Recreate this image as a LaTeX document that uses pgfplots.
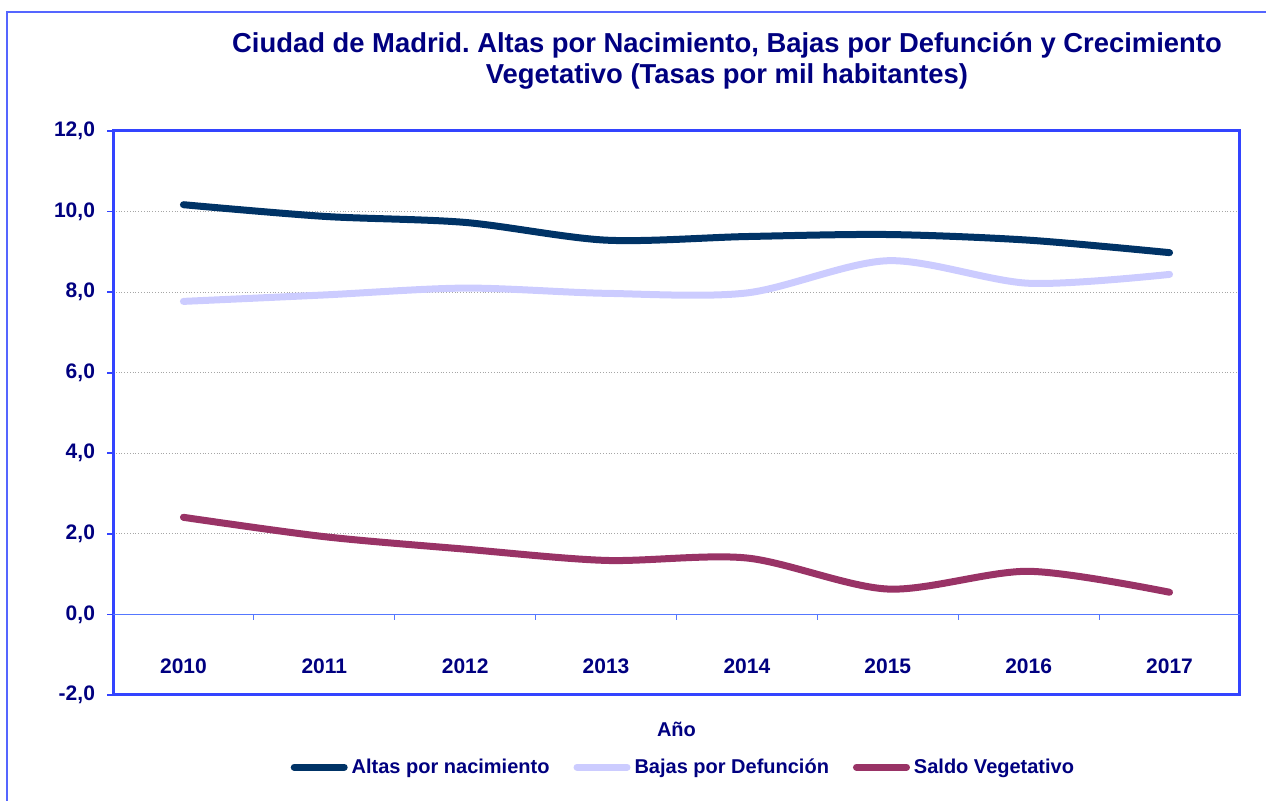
\documentclass[border=0pt]{standalone}
\usepackage{pgfplots}
\pgfplotsset{compat=1.18}
\usepackage{fontspec}
\setmainfont{Liberation Sans}
\frenchspacing
\definecolor{navytext}{HTML}{000080}
\definecolor{altas}{HTML}{003366}
\definecolor{bajas}{HTML}{CCCCFF}
\definecolor{saldo}{HTML}{993366}
\definecolor{frameblue}{HTML}{5566FF}
\definecolor{axisblue}{HTML}{3344FF}
\definecolor{zeroblue}{HTML}{5577FF}
\begin{document}
\begin{tikzpicture}
\useasboundingbox (0,0) rectangle (633pt,400.5pt);
\draw[frameblue, line width=1pt] (3.5pt,-10pt) -- (3.5pt,394.5pt) -- (645pt,394.5pt);
\node[align=center, text=navytext, font=\fontsize{13.7}{15.5}\selectfont\bfseries] at (363.5pt,370pt)
  {Ciudad de Madrid. Altas por Nacimiento, Bajas por Defunción y Crecimiento\\Vegetativo (Tasas por mil habitantes)};
\begin{axis}[
  at={(56.5pt,53pt)}, anchor=south west,
  scale only axis, width=563.5pt, height=282pt,
  xmin=-0.5, xmax=7.5, ymin=-2, ymax=12,
  axis line style={axisblue, line width=1.5pt},
  xtick={0,...,7},
  xticklabels={2010,2011,2012,2013,2014,2015,2016,2017},
  x tick style={draw=none},
  xticklabel style={anchor=center, yshift=17.5pt},
  ytick={-2,0,...,12}, ytick pos=left,
  y tick style={axisblue, line width=0.8pt},
  tick align=outside, major tick length=3pt,
  ymajorgrids, grid style={gray!70, densely dotted, line width=0.5pt},
  tick label style={font=\fontsize{10.5}{12}\selectfont\bfseries, text=navytext},
  /pgf/number format/assume math mode=true,
  yticklabel={\pgfmathprintnumber[fixed, fixed zerofill, precision=1, use comma]{\tick}},
  yticklabel style={xshift=-2.5pt},
  xlabel={Año},
  xlabel style={font=\fontsize{10}{11}\selectfont\bfseries, text=navytext, yshift=-7pt},
  legend columns=3,
  legend style={draw=none, at={(0.507,-0.128)}, anchor=center,
    font=\fontsize{10}{11}\selectfont\bfseries, text=navytext,
    /tikz/every even column/.append style={column sep=10pt},
    inner sep=0pt},
  legend cell align=left,
  legend image code/.code={\draw[#1, line width=3.5pt, line cap=round] (0,0) -- (25pt,0);},
  every axis plot/.append style={line width=3.5pt, line cap=round, smooth, tension=0.5},
  clip=false,
]
\draw[zeroblue, line width=0.9pt] (axis cs:-0.5,0) -- (axis cs:7.5,0);
\pgfplotsinvokeforeach{0.5,1.5,2.5,3.5,4.5,5.5,6.5}{\draw[zeroblue, line width=0.6pt] (axis cs:#1,0) -- ([yshift=-3pt]axis cs:#1,0);}
\addplot[altas] coordinates {(0,10.17) (1,9.88) (2,9.73) (3,9.29) (4,9.38) (5,9.43) (6,9.29) (7,8.98)};
\addlegendentry{\vphantom{ó}Altas por nacimiento}
\addplot[bajas] coordinates {(0,7.77) (1,7.93) (2,8.10) (3,7.97) (4,7.98) (5,8.78) (6,8.22) (7,8.44)};
\addlegendentry{\vphantom{ó}Bajas por Defunción}
\addplot[saldo] coordinates {(0,2.41) (1,1.93) (2,1.62) (3,1.34) (4,1.40) (5,0.63) (6,1.07) (7,0.55)};
\addlegendentry{\vphantom{ó}Saldo Vegetativo}
\end{axis}
\end{tikzpicture}
\end{document}
